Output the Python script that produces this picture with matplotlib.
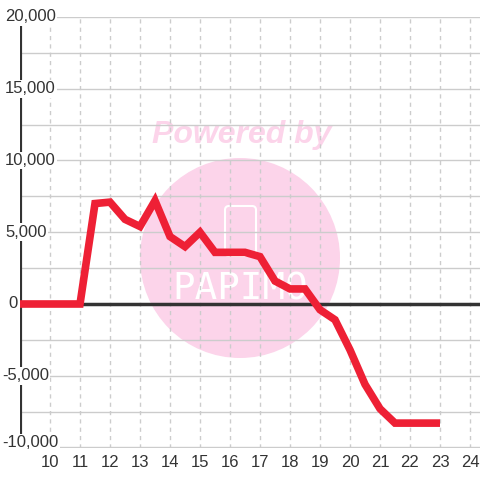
import matplotlib
matplotlib.use("Agg")
import matplotlib.pyplot as plt
from matplotlib.patches import Circle, FancyBboxPatch

hours = [9, 10, 11, 11.5, 12, 12.5, 13, 13.5, 14, 14.5, 15, 15.5, 16, 16.5, 17,
         17.5, 18, 18.5, 19, 19.5, 20, 20.5, 21, 21.5, 22, 22.5, 23]
values = [0, 0, 0, 7000, 7100, 5900, 5400, 7200, 4700, 4000, 5000, 3600, 3600, 3600, 3300,
          1600, 1050, 1050, -400, -1100, -3200, -5600, -7300, -8300, -8300, -8300, -8300]
x_ticks = list(range(10, 25))
y_ticks = [20000, 15000, 10000, 5000, 0, -5000, -10000]
y_labels = ["20,000", "15,000", "10,000", "5,000", "0", "-5,000", "-10,000"]

plt.rcParams['font.family'] = ['Liberation Sans', 'DejaVu Sans']
fig = plt.figure(figsize=(4.8, 4.8), dpi=100)
fig.patch.set_facecolor('white')

# background watermark axes (pixel coordinates, origin top-left)
bg = fig.add_axes([0, 0, 1, 1], zorder=0)
bg.set_xlim(0, 480)
bg.set_ylim(480, 0)
bg.axis('off')
pink = '#fcd4ea'
bg.add_patch(Circle((240, 258), 100, facecolor=pink, edgecolor='none'))
bg.text(242, 135, "Powered by", color=pink, fontsize=23, fontweight='heavy',
        fontstyle='italic', ha='center', va='center')
bg.add_patch(FancyBboxPatch((225, 206), 31, 50, boxstyle="round,pad=0,rounding_size=4",
                            facecolor='none', edgecolor='white', linewidth=1.5))
bg.text(240, 290, "PAPIMO", color='white', fontsize=27, fontweight='light',
        ha='center', va='center', family=['DejaVu Sans Mono', 'DejaVu Sans'])

ax = fig.add_axes([20/480, 1-447.5/480, 460/480, (447.5-17)/480], zorder=1)
ax.set_facecolor('none')
ax.set_xlim(9, 9 + 460/30)
ax.set_ylim(-10000, 20000)

# grid
for yv in range(-10000, 20001, 2500):
    ax.axhline(yv, color='#cccccc', linewidth=1, zorder=1)
for xv in x_ticks:
    ax.axvline(xv, color='#cccccc', linewidth=1, linestyle=(0, (3, 3)), zorder=1)

ax.axhline(0, color='#333333', linewidth=2.5, zorder=2)
ax.axvline(9, color='#333333', linewidth=3, zorder=2)

ax.plot(hours, values, color='#ee2035', linewidth=5.5, solid_joinstyle='miter',
        solid_capstyle='butt', zorder=3)

for s in ax.spines.values():
    s.set_visible(False)
ax.set_xticks([])
ax.set_yticks([])

# x tick labels
for xv in x_ticks:
    ax.text(xv, -10500, str(xv), ha='center', va='top', fontsize=12, color='#333333')

# y tick labels with white background covering axis
top = fig.add_axes([0, 0, 1, 1], zorder=2)
top.set_xlim(0, 480)
top.set_ylim(480, 0)
top.axis('off')
for yv, lab in zip(y_ticks, y_labels):
    xpix = 2 if lab.startswith('-') else (8 if lab == '0' else 5)
    ypix = 480 - ax.transData.transform((9, yv))[1]
    if yv == y_ticks[-1]:
        ypix -= 5
    top.text(xpix, ypix, lab, ha='left', va='center', fontsize=12, color='#333333',
             bbox=dict(facecolor='white', edgecolor='none', pad=1.0))

fig.savefig("out.png", dpi=100)
